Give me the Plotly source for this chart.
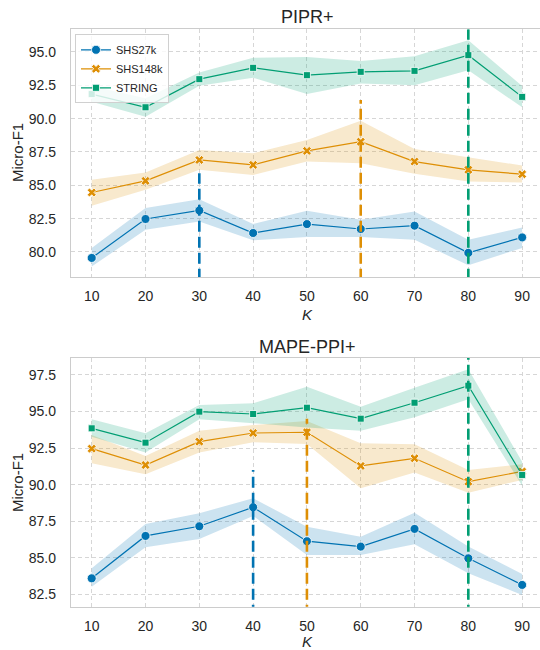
import plotly.graph_objects as go

K = [10, 20, 30, 40, 50, 60, 70, 80, 90]
series_names = ["SHS27k", "SHS148k", "STRING"]

# PIPR+ panel
pipr_mean = {
    "SHS27k": [79.55, 82.47, 83.11, 81.42, 82.09, 81.72, 81.97, 79.93, 81.09],
    "SHS148k": [84.46, 85.33, 86.90, 86.53, 87.58, 88.27, 86.78, 86.16, 85.83],
    "STRING": [91.84, 90.85, 92.96, 93.81, 93.26, 93.51, 93.58, 94.76, 91.63],
}
pipr_lo = {
    "SHS27k": [78.90, 81.67, 82.29, 80.87, 81.12, 81.12, 80.92, 79.00, 80.30],
    "SHS148k": [83.46, 84.66, 86.16, 85.78, 86.78, 86.66, 85.86, 85.28, 85.20],
    "STRING": [91.26, 90.14, 92.46, 93.06, 91.84, 92.64, 92.51, 93.63, 90.85],
}
pipr_hi = {
    "SHS27k": [80.30, 83.30, 83.96, 82.10, 83.09, 82.42, 83.04, 80.92, 81.84],
    "SHS148k": [85.41, 85.95, 87.65, 87.40, 88.40, 89.84, 87.73, 87.08, 86.48],
    "STRING": [92.44, 91.52, 93.46, 94.56, 94.63, 94.33, 94.68, 95.88, 92.44],
}
pipr_best_k = [30, 60, 80]
pipr_best_top = [85.9, 91.4, 96.7]

# MAPE-PPI+ panel
mape_mean = {
    "SHS27k": [83.59, 86.49, 87.15, 88.45, 86.13, 85.76, 86.97, 84.96, 83.14],
    "SHS148k": [92.46, 91.34, 92.94, 93.53, 93.58, 91.28, 91.80, 90.20, 90.90],
    "STRING": [93.85, 92.87, 94.99, 94.83, 95.26, 94.51, 95.60, 96.77, 90.66],
}
mape_lo = {
    "SHS27k": [83.02, 85.71, 86.28, 87.86, 85.19, 85.19, 85.92, 83.94, 82.45],
    "SHS148k": [91.46, 90.71, 92.19, 92.90, 92.78, 89.75, 90.82, 89.45, 90.32],
    "STRING": [93.28, 92.19, 94.47, 94.20, 93.90, 93.69, 94.61, 95.84, 89.93],
}
mape_hi = {
    "SHS27k": [84.28, 87.31, 88.04, 89.07, 87.12, 86.44, 88.08, 85.76, 83.89],
    "SHS148k": [93.40, 91.96, 93.69, 94.08, 94.35, 92.83, 92.76, 91.00, 91.39],
    "STRING": [94.47, 93.51, 95.45, 95.56, 96.70, 95.33, 96.63, 97.89, 91.57],
}
mape_best_k = [40, 50, 80]
mape_best_top = [91.0, 94.5, 98.7]

x_ticks = [10, 20, 30, 40, 50, 60, 70, 80, 90]
pipr_y_ticks = [80.0, 82.5, 85.0, 87.5, 90.0, 92.5, 95.0]
mape_y_ticks = [82.5, 85.0, 87.5, 90.0, 92.5, 95.0, 97.5]

colors = {"SHS27k": "#0173b2", "SHS148k": "#de8f05", "STRING": "#029e73"}
bands = {"SHS27k": "rgba(1,115,178,0.2)", "SHS148k": "rgba(222,143,5,0.2)",
         "STRING": "rgba(2,158,115,0.2)"}
symbols = {"SHS27k": "circle", "SHS148k": "x", "STRING": "square"}
msize = {"SHS27k": 9, "SHS148k": 8, "STRING": 7}

FONT = "Liberation Sans, Arial, sans-serif"
TXT = "#262626"

fig = go.Figure()

panels = [
    ("x", "y", pipr_mean, pipr_lo, pipr_hi, pipr_best_k, pipr_best_top, True),
    ("x2", "y2", mape_mean, mape_lo, mape_hi, mape_best_k, mape_best_top, False),
]
yranges = {"y": [78.12, 96.7], "y2": [81.65, 98.68]}

for xa, ya, mean, lo, hi, bk, btop, show in panels:
    for s in series_names:
        fig.add_trace(go.Scatter(
            x=K + K[::-1], y=hi[s] + lo[s][::-1], xaxis=xa, yaxis=ya,
            fill="toself", fillcolor=bands[s], line=dict(width=0),
            mode="lines", showlegend=False, hoverinfo="skip"))
        fig.add_trace(go.Scatter(
            x=K, y=mean[s], xaxis=xa, yaxis=ya, name=s, showlegend=show,
            mode="lines+markers", line=dict(color=colors[s], width=1.2),
            marker=dict(symbol=symbols[s], size=msize[s], color=colors[s],
                        line=dict(color="white", width=0.8))))
    for s, k, top in zip(series_names, bk, btop):
        fig.add_trace(go.Scatter(
            x=[k, k], y=[yranges[ya][0] - 5, top], xaxis=xa, yaxis=ya,
            mode="lines", showlegend=False, hoverinfo="skip",
            line=dict(color=colors[s], width=2.6, dash="11px,5px")))

axis_common = dict(
    showgrid=True, gridcolor="#d6d6d6", griddash="4px,3px", gridwidth=1,
    showline=True, linecolor="#cccccc", linewidth=1.3, zeroline=False,
    ticks="outside", tickcolor="rgba(0,0,0,0)", automargin=False,
    tickfont=dict(family=FONT, size=14, color=TXT),
)

fig.update_layout(
    width=540, height=650, margin=dict(l=0, r=0, t=0, b=0),
    paper_bgcolor="white", plot_bgcolor="white",
    font=dict(family=FONT, color=TXT),
    xaxis=dict(axis_common, domain=[71 / 540, 1], range=[6.15, 93.32],
               tickvals=x_ticks, anchor="y", mirror=True, ticklen=6),
    yaxis=dict(axis_common, domain=[1 - 277 / 650, 1 - 29.3 / 650],
               range=yranges["y"], tickvals=pipr_y_ticks, tickformat=".1f",
               anchor="x", ticklen=11),
    xaxis2=dict(axis_common, domain=[71 / 540, 1], range=[6.15, 93.32],
                tickvals=x_ticks, anchor="y2", mirror=True, ticklen=6),
    yaxis2=dict(axis_common, domain=[1 - 606.7 / 650, 1 - 357.7 / 650],
                range=yranges["y2"], tickvals=mape_y_ticks, tickformat=".1f",
                anchor="x2", ticklen=11),
    legend=dict(x=75 / 540, y=1 - 34.3 / 650, xanchor="left", yanchor="top",
                bgcolor="rgba(255,255,255,0.8)", bordercolor="#d0d0d0",
                borderwidth=1, font=dict(family=FONT, size=11, color=TXT),
                tracegroupgap=0, itemwidth=30),
    showlegend=True,
)

annotations = [
    dict(text="PIPR+", x=307 / 540, y=1 - 17 / 650, font=dict(size=18)),
    dict(text="MAPE-PPI+", x=307 / 540, y=1 - 347 / 650, font=dict(size=18)),
    dict(text="<i>K</i>", x=307 / 540, y=1 - 314 / 650, font=dict(size=15)),
    dict(text="<i>K</i>", x=307 / 540, y=1 - 641 / 650, font=dict(size=15)),
    dict(text="Micro-F1", x=17 / 540, y=1 - 153 / 650, font=dict(size=15), textangle=-90),
    dict(text="Micro-F1", x=17 / 540, y=1 - 483 / 650, font=dict(size=15), textangle=-90),
]
for a in annotations:
    a.update(xref="paper", yref="paper", showarrow=False, xanchor="center", yanchor="middle")
    a["font"].update(family=FONT, color=TXT)
    fig.add_annotation(**a)

fig.write_html(
    "out.html",
    config={"responsive": False, "displayModeBar": False},
    post_script="document.body.style.margin='0';document.body.style.overflow='hidden';",
)
